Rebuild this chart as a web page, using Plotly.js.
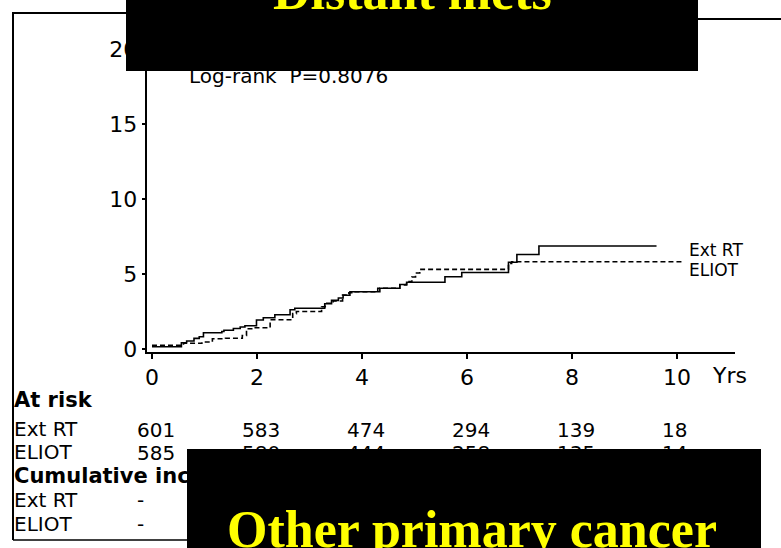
<!DOCTYPE html>
<html>
<head>
<meta charset="utf-8">
<script src="https://cdn.plot.ly/plotly-3.0.1.min.js"></script>
<style>
  html, body { margin: 0; padding: 0; background: #ffffff; }
  #chart { width: 781px; height: 548px; }
</style>
</head>
<body>
<div id="chart"></div>
<script>
// Cumulative incidence (%) by follow-up year, one step series per arm
const extTime   = [0, 0.56, 0.66, 0.80, 0.90, 0.98, 1.33, 1.37, 1.55, 1.68, 1.77, 1.99, 2.12, 2.34, 2.63, 2.72, 3.29, 3.42, 3.55, 3.64, 3.77, 4.34, 4.72, 4.85, 5.58, 5.90, 6.79, 6.95, 7.37, 9.61];
const extCum    = [0.15, 0.42, 0.53, 0.71, 0.82, 1.08, 1.17, 1.25, 1.37, 1.47, 1.55, 1.93, 2.08, 2.28, 2.62, 2.72, 3.02, 3.24, 3.40, 3.58, 3.82, 4.05, 4.30, 4.45, 4.82, 5.10, 5.78, 6.30, 6.87, 6.87];
const eliotTime = [0, 0.60, 0.95, 1.15, 1.40, 1.72, 1.80, 1.93, 2.25, 2.68, 2.75, 3.23, 3.30, 3.45, 3.63, 3.75, 3.87, 4.30, 4.72, 4.85, 4.95, 5.02, 5.10, 6.79, 6.85, 10.10];
const eliotCum  = [0.25, 0.38, 0.47, 0.68, 0.72, 0.90, 1.35, 1.42, 1.95, 2.36, 2.50, 2.82, 3.05, 3.20, 3.60, 3.75, 3.82, 4.05, 4.27, 4.50, 4.80, 5.07, 5.31, 5.71, 5.82, 5.82];

// Axis ticks
const yearTicks = [0, 2, 4, 6, 8, 10];
const pctTicks  = [0, 5, 10, 15, 20];

// Numbers at risk at each tick year
const armNames    = ['Ext RT', 'ELIOT'];
const atRiskExt   = [601, 583, 474, 294, 139, 18];
const atRiskEliot = [585, 580, 444, 258, 135, 14];
const cumulativeExt   = ['-'];
const cumulativeEliot = ['-'];

const logRankText = 'Log-rank  P=0.8076';
const headTitle   = 'Distant mets';
const footTitle   = 'Other primary cancer';

// ---- page geometry helpers (pixel -> paper fraction) ----
const W = 781, H = 548;
const px = v => v / W;
const py = v => 1 - v / H;

const sans  = 'DejaVu Sans, Verdana, sans-serif';
const serif = 'Liberation Serif, Times New Roman, serif';
const ink = '#000000';

const traces = [
  {
    x: extTime, y: extCum, type: 'scatter', mode: 'lines',
    line: { shape: 'hv', color: ink, width: 1.6 },
    hoverinfo: 'skip', showlegend: false
  },
  {
    x: eliotTime, y: eliotCum, type: 'scatter', mode: 'lines',
    line: { shape: 'hv', color: ink, width: 1.6, dash: '5px,3px' },
    hoverinfo: 'skip', showlegend: false
  }
];

const ann = [];
function txt(text, x, y, size, extra) {
  ann.push(Object.assign({
    text: text, x: x, y: y, xref: 'paper', yref: 'paper',
    xanchor: 'left', yanchor: 'middle', showarrow: false,
    font: { family: sans, size: size, color: ink }
  }, extra || {}));
}

// in-plot labels
txt(logRankText, px(187), py(76), 20);
txt(armNames[0], px(687), py(249.5), 17);
txt(armNames[1], px(687), py(269.5), 17);
txt('Yrs', px(710), py(375), 22);

// risk table
txt('<b>At risk</b>', px(12), py(400), 21);
txt(armNames[0], px(12), py(429), 20);
txt(armNames[1], px(12), py(452), 20);
txt('<b>Cumulative incidence (%)</b>', px(12), py(476), 21);
txt(armNames[0], px(12), py(500), 20);
txt(armNames[1], px(12), py(524), 20);

function riskRow(values, rowY) {
  values.forEach((v, i) => {
    ann.push({
      text: String(v), x: yearTicks[i], y: py(rowY), xref: 'x', yref: 'paper',
      xanchor: 'left', yanchor: 'middle', xshift: -17, showarrow: false,
      font: { family: sans, size: 20, color: ink }
    });
  });
}
riskRow(atRiskExt, 430);
riskRow(atRiskEliot, 453);
riskRow(cumulativeExt, 500);
riskRow(cumulativeEliot, 524);

// black title panels, then their captions on top
ann.push({
  text: ' ', xref: 'paper', yref: 'paper', x: px(412), y: py(71),
  xanchor: 'center', yanchor: 'bottom', width: 572, height: 95,
  bgcolor: '#000000', borderpad: 0, borderwidth: 0, showarrow: false
});
ann.push({
  text: ' ', xref: 'paper', yref: 'paper', x: px(474), y: py(449),
  xanchor: 'center', yanchor: 'top', width: 574, height: 120,
  bgcolor: '#000000', borderpad: 0, borderwidth: 0, showarrow: false
});
ann.push({
  text: headTitle, xref: 'paper', yref: 'paper', x: px(412), y: py(-39),
  xanchor: 'center', yanchor: 'top', showarrow: false,
  font: { family: serif, size: 52, color: '#ffff00', weight: 700 }
});
ann.push({
  text: footTitle, xref: 'paper', yref: 'paper', x: px(472), y: py(499),
  xanchor: 'center', yanchor: 'top', showarrow: false,
  font: { family: serif, size: 52, color: '#ffff00', weight: 700 }
});

// outer frame
const frame = [
  { type: 'line', xref: 'paper', yref: 'paper', x0: px(13), x1: px(13), y0: py(12), y1: py(540), line: { color: ink, width: 2 } },
  { type: 'line', xref: 'paper', yref: 'paper', x0: px(13), x1: px(130), y0: py(13), y1: py(13), line: { color: ink, width: 2 } },
  { type: 'line', xref: 'paper', yref: 'paper', x0: px(690), x1: px(781), y0: py(19), y1: py(19), line: { color: ink, width: 2 } },
  { type: 'line', xref: 'paper', yref: 'paper', x0: px(13), x1: px(190), y0: py(540), y1: py(540), line: { color: ink, width: 1.5 } }
];

const layout = {
  width: W, height: H,
  margin: { l: 0, r: 0, t: 0, b: 0, pad: 0 },
  paper_bgcolor: '#ffffff', plot_bgcolor: '#ffffff',
  showlegend: false,
  xaxis: {
    domain: [146.75 / W, 734.75 / W], range: [-0.1, 11.1],
    tickvals: yearTicks, ticktext: yearTicks.map(String),
    showgrid: false, zeroline: false,
    showline: true, linecolor: ink, linewidth: 1.6,
    ticks: 'outside', ticklen: 5, tickwidth: 2, tickcolor: ink,
    tickfont: { family: sans, size: 22, color: ink },
    fixedrange: true
  },
  yaxis: {
    domain: [(H - 352) / H, (H - 41.5) / H], range: [-0.2, 20.5],
    tickvals: pctTicks, ticktext: pctTicks.map(String),
    showgrid: false, zeroline: false,
    showline: true, linecolor: ink, linewidth: 2,
    ticks: 'outside', ticklen: 3, tickwidth: 1.5, tickcolor: ink,
    tickfont: { family: sans, size: 22, color: ink },
    fixedrange: true
  },
  shapes: frame,
  annotations: ann
};

Plotly.newPlot('chart', traces, layout, { staticPlot: true, displayModeBar: false });
</script>
</body>
</html>
